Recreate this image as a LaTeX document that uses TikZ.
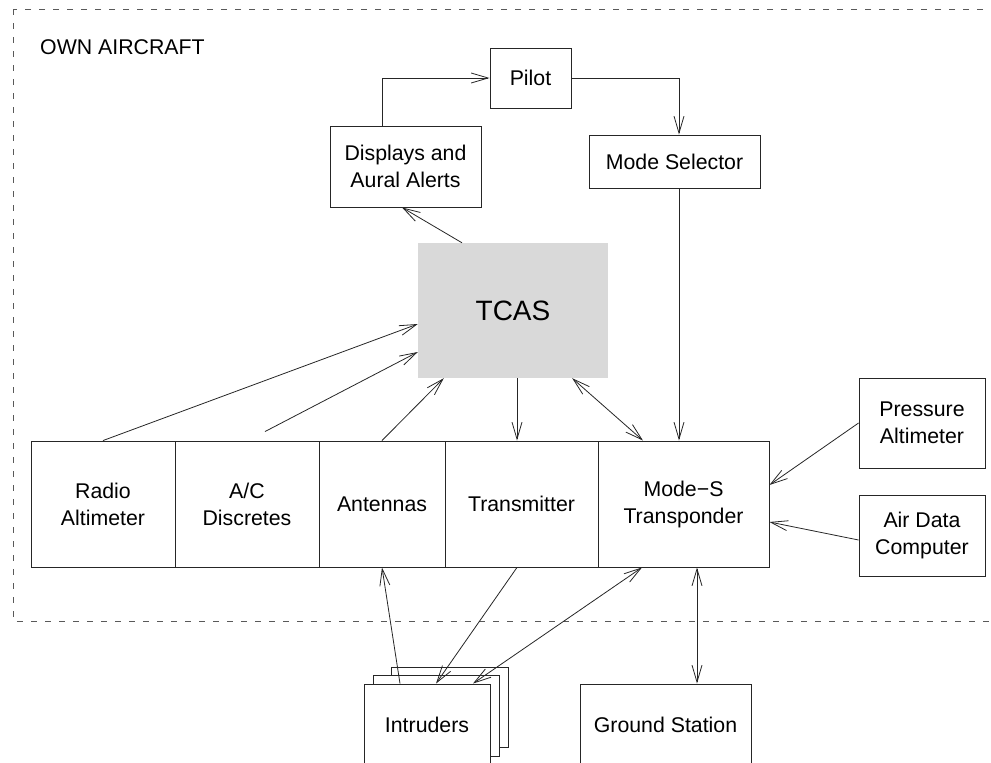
\documentclass[tikz,border=0pt]{standalone}
\usepackage{fontspec}
\setmainfont{Liberation Sans}
\usetikzlibrary{arrows.meta, positioning, calc}

\begin{document}
\begin{tikzpicture}[
    x=1pt, y=-1pt,
    font=\fontsize{21.3}{27}\selectfont,
    box/.style = {draw=black!85, line width=0.9pt, fill=white, inner sep=0pt, align=center},
    cell/.style = {box, minimum height=126pt},
    arr/.style = {black!85, line width=0.8pt, -{Straight Barb[length=17pt,width=10pt]}},
    dblarr/.style = {black!85, line width=0.8pt, {Straight Barb[length=17pt,width=10pt]}-{Straight Barb[length=17pt,width=10pt]}},
    border/.style = {black!65, line width=0.9pt, dash pattern=on 6pt off 8pt},
]
\useasboundingbox (0,0) rectangle (991,763);
\clip (0,0) rectangle (991,763);

% Own aircraft border
\draw[border] (13,9) rectangle (1020,621);
\node[anchor=base west, inner sep=0pt] (own) at (40,54) {OWN AIRCRAFT};

% Upper boxes
\node[box, minimum width=81pt, minimum height=60pt] (pilot) at (530.5,78) {Pilot};
\node[box, minimum width=151pt, minimum height=81pt] (disp) at (405.5,166.5) {Displays and\\Aural Alerts};
\node[box, minimum width=171pt, minimum height=53pt] (modesel) at (674.5,161.5) {Mode Selector};

% TCAS
\node[fill=black!15, inner sep=0pt, minimum width=190pt, minimum height=135pt,
      font=\fontsize{28}{32}\selectfont] (tcas) at (513,310.5) {TCAS};

% Equipment row
\node[cell, minimum width=144pt] (radalt) at (103,504) {Radio\\Altimeter};
\node[cell, minimum width=144pt] (acdisc) at (247,504) {A/C\\Discretes};
\node[cell, minimum width=126pt] (ant) at (382,504) {Antennas};
\node[cell, minimum width=153pt] (xmit) at (521.5,504) {Transmitter};
\node[cell, minimum width=171pt] (xpdr) at (683.5,504) {Mode−S\\Transponder};

% Right side inputs
\node[box, minimum width=126pt, minimum height=90pt] (press) at (922,423) {Pressure\\Altimeter};
\node[box, minimum width=126pt, minimum height=81pt] (adc) at (922,535.5) {Air Data\\Computer};

% Outside the aircraft
\node[box, minimum width=117pt, minimum height=80pt] (intr3) at (449.5,707) {};
\node[box, minimum width=126pt, minimum height=81pt] (intr2) at (436,715.5) {};
\node[box, minimum width=126pt, minimum height=81pt] (intr) at (427,724.5) {Intruders};
\node[box, minimum width=171pt, minimum height=81pt] (ground) at (665.5,724.5) {Ground Station};

% Pilot loop
\draw[arr] ([xshift=-23.5pt]disp.north) |- (pilot.west);
\draw[arr] (pilot.east) -| ([xshift=4.5pt]modesel.north);
\draw[arr] ([xshift=4.5pt]modesel.south) -- ([xshift=4.5pt]modesel.south |- xpdr.north);
\draw[arr] ([xshift=-51pt]tcas.north) -- ([xshift=-3.5pt]disp.south);

% Into TCAS
\draw[arr] (radalt.north) -- ([yshift=-13.5pt]tcas.west);
\draw[arr] ([xshift=18pt,yshift=9pt]acdisc.north) -- ([yshift=-41.5pt]tcas.west);
\draw[arr] (ant.north) -- ([xshift=26pt]tcas.south west);
\draw[arr] ([xshift=4pt]tcas.south) -- ([xshift=4pt]tcas.south |- xmit.north);
\draw[dblarr] ([xshift=-36pt]tcas.south east) -- ([xshift=-40.5pt]xpdr.north);

% Into transponder
\draw[arr] (press.west) -- ([yshift=19pt]xpdr.east);
\draw[arr] ([yshift=-4.5pt]adc.west) -- ([yshift=-18pt]xpdr.east);

% Links outside
\draw[arr] ([xshift=-27pt]intr.north) -- (ant.south);
\draw[arr] ([xshift=-4.5pt]xmit.south) -- ([xshift=9pt]intr.north);
\draw[dblarr] ([xshift=-41.5pt]xpdr.south) -- ([xshift=46pt]intr.north);
\draw[dblarr] ([xshift=13.5pt]xpdr.south) -- ([xshift=13.5pt]xpdr.south |- ground.north);

\end{tikzpicture}
\end{document}
